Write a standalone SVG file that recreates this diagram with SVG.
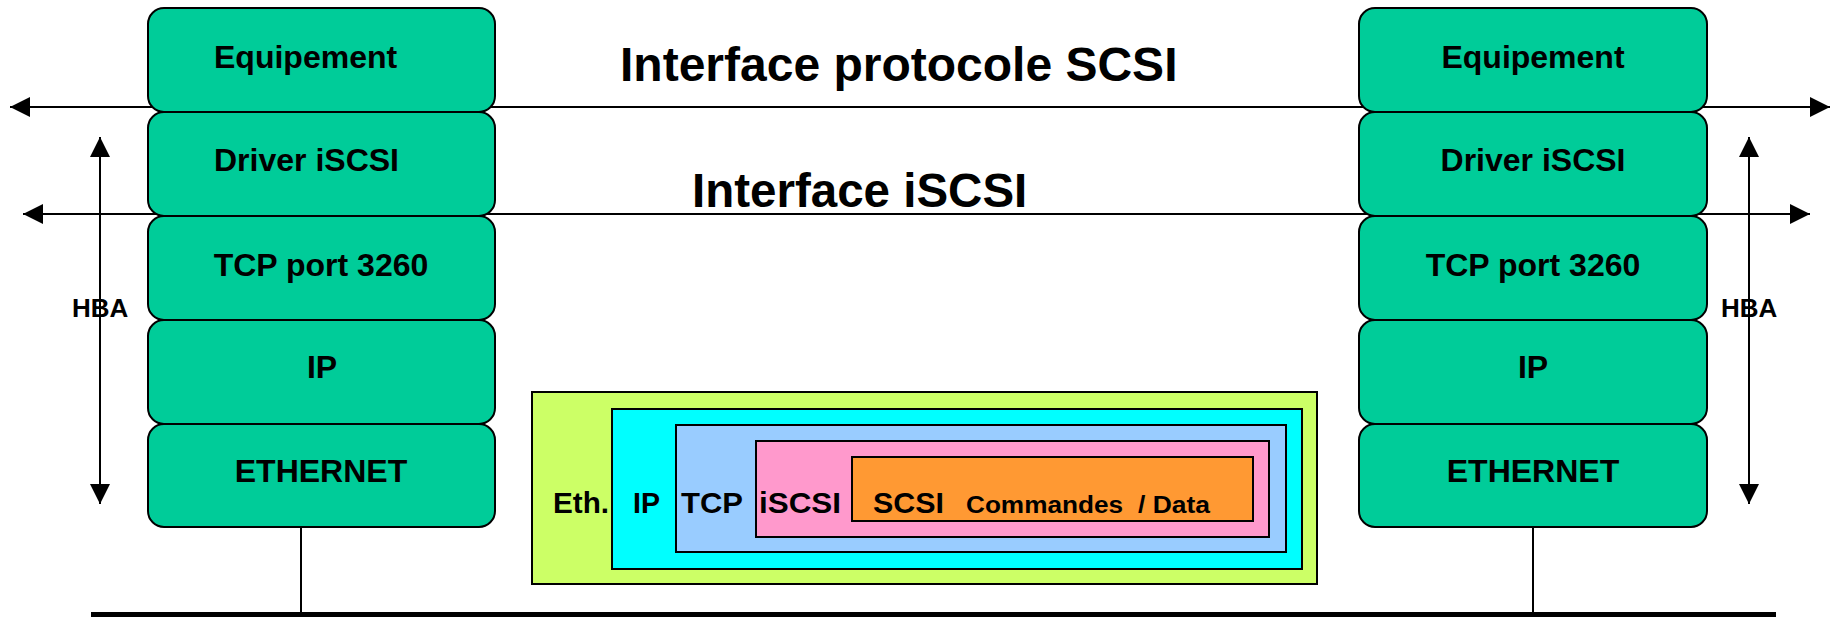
<svg xmlns="http://www.w3.org/2000/svg" width="1832" height="617" viewBox="0 0 1832 617">
<style>
.t{font-family:"Liberation Sans",Arial,sans-serif;font-weight:bold;fill:#000}
.layer{fill:#00CC99;stroke:#000;stroke-width:2}
.pk{stroke:#000;stroke-width:2}
.ln{stroke:#000;stroke-width:2;fill:none}
</style>
<defs>
<marker id="ah" markerUnits="userSpaceOnUse" markerWidth="20" markerHeight="20" refX="20" refY="10" orient="auto-start-reverse">
<path d="M0,0 L20,10 L0,20 z" fill="#000"/>
</marker>
</defs>
<rect width="1832" height="617" fill="#fff"/>
<text class="t" x="72" y="317" font-size="26">HBA</text>
<text class="t" x="1721" y="317" font-size="26">HBA</text>
<g id="connectors">
<line class="ln" x1="10" y1="107" x2="1830" y2="107" marker-start="url(#ah)" marker-end="url(#ah)"/>
<line class="ln" x1="23" y1="214" x2="1810" y2="214" marker-start="url(#ah)" marker-end="url(#ah)"/>
<line class="ln" x1="100" y1="137" x2="100" y2="504" marker-start="url(#ah)" marker-end="url(#ah)"/>
<line class="ln" x1="1749" y1="137" x2="1749" y2="504" marker-start="url(#ah)" marker-end="url(#ah)"/>
<line class="ln" x1="301" y1="527" x2="301" y2="612" stroke-width="1.5"/>
<line class="ln" x1="1533" y1="527" x2="1533" y2="612" stroke-width="1.5"/>
<line x1="91" y1="614.5" x2="1776" y2="614.5" stroke="#000" stroke-width="5"/>
</g>
<text class="t" x="620" y="81" font-size="48">Interface protocole SCSI</text>
<text class="t" x="692" y="207" font-size="47.5">Interface iSCSI</text>
<g id="left-equipement"><rect class="layer" x="148" y="8" width="347" height="104" rx="16"/><text class="t" x="214" y="68" font-size="32">Equipement</text></g>
<g id="left-driver"><rect class="layer" x="148" y="112" width="347" height="104" rx="16"/><text class="t" x="214" y="171" font-size="32">Driver iSCSI</text></g>
<g id="left-tcp"><rect class="layer" x="148" y="216" width="347" height="104" rx="16"/><text class="t" x="321" y="276" font-size="32" text-anchor="middle">TCP port 3260</text></g>
<g id="left-ip"><rect class="layer" x="148" y="320" width="347" height="104" rx="16"/><text class="t" x="322" y="378" font-size="32" text-anchor="middle">IP</text></g>
<g id="left-ethernet"><rect class="layer" x="148" y="424" width="347" height="103" rx="16"/><text class="t" x="321" y="482" font-size="32" text-anchor="middle">ETHERNET</text></g>
<g id="right-equipement"><rect class="layer" x="1359" y="8" width="348" height="104" rx="16"/><text class="t" x="1533" y="68" font-size="32" text-anchor="middle">Equipement</text></g>
<g id="right-driver"><rect class="layer" x="1359" y="112" width="348" height="104" rx="16"/><text class="t" x="1533" y="171" font-size="32" text-anchor="middle">Driver iSCSI</text></g>
<g id="right-tcp"><rect class="layer" x="1359" y="216" width="348" height="104" rx="16"/><text class="t" x="1533" y="276" font-size="32" text-anchor="middle">TCP port 3260</text></g>
<g id="right-ip"><rect class="layer" x="1359" y="320" width="348" height="104" rx="16"/><text class="t" x="1533" y="378" font-size="32" text-anchor="middle">IP</text></g>
<g id="right-ethernet"><rect class="layer" x="1359" y="424" width="348" height="103" rx="16"/><text class="t" x="1533" y="482" font-size="32" text-anchor="middle">ETHERNET</text></g>
<g id="packet">
<rect class="pk" x="532" y="392" width="785" height="192" fill="#CCFF66"/>
<rect class="pk" x="612" y="409" width="690" height="160" fill="#00FFFF"/>
<rect class="pk" x="676" y="425" width="610" height="127" fill="#99CCFF"/>
<rect class="pk" x="756" y="441" width="513" height="96" fill="#FF99CC"/>
<rect class="pk" x="852" y="457" width="401" height="64" fill="#FF9933"/>
<text class="t" x="553" y="513" font-size="30" textLength="56" lengthAdjust="spacingAndGlyphs">Eth.</text>
<text class="t" x="633" y="513" font-size="30" textLength="27" lengthAdjust="spacingAndGlyphs">IP</text>
<text class="t" x="681" y="513" font-size="30" textLength="62" lengthAdjust="spacingAndGlyphs">TCP</text>
<text class="t" x="759" y="513" font-size="30" textLength="82" lengthAdjust="spacingAndGlyphs">iSCSI</text>
<text class="t" x="873" y="513" font-size="30" textLength="71" lengthAdjust="spacingAndGlyphs">SCSI</text>
<text class="t" x="966" y="513" font-size="23" textLength="157" lengthAdjust="spacingAndGlyphs">Commandes</text>
<text class="t" x="1138" y="513" font-size="23" textLength="72" lengthAdjust="spacingAndGlyphs">/ Data</text>
</g>
</svg>
